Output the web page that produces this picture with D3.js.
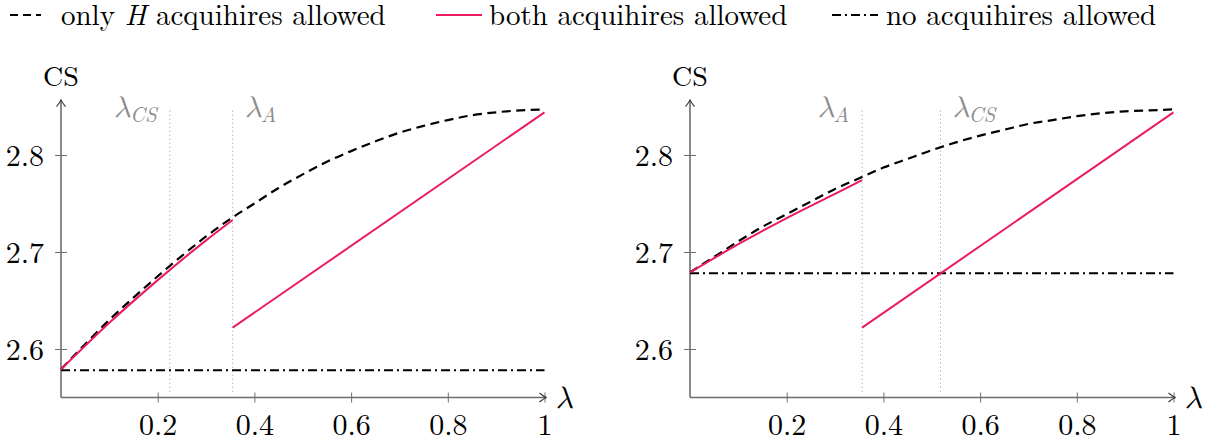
<!DOCTYPE html>
<html>
<head>
<meta charset="utf-8">
<script src="https://cdn.jsdelivr.net/npm/d3@7"></script>
<style>
  body { margin: 0; background: #fff; }
</style>
</head>
<body>
<div id="chart"></div>
<script>
const width = 1218;
const height = 446;
const FONT = '"Latin Modern Roman", "Liberation Serif", serif';
const MATH = '"Latin Modern Math", "Latin Modern Roman", "Liberation Serif", serif';

// shared axis ticks
const xTicks = [0.2, 0.4, 0.6, 0.8, 1];
const yTicks = [2.6, 2.7, 2.8];
const yDomain = [2.55, 2.857];

// "only H acquihires allowed" (dashed), read at these lambdas
const lambdaGrid = [0, 0.05, 0.1, 0.15, 0.2, 0.25, 0.3, 0.35, 0.4, 0.45, 0.5,
  0.55, 0.6, 0.65, 0.7, 0.75, 0.8, 0.85, 0.9, 0.95, 1];
const leftOnlyH = [2.579, 2.605, 2.630, 2.653, 2.675, 2.696, 2.716, 2.734, 2.750, 2.766, 2.780,
  2.793, 2.804, 2.814, 2.823, 2.830, 2.836, 2.841, 2.844, 2.846, 2.847];
const rightOnlyH = [2.679, 2.695, 2.711, 2.726, 2.739, 2.752, 2.765, 2.776, 2.787, 2.796, 2.805,
  2.813, 2.820, 2.826, 2.832, 2.836, 2.840, 2.843, 2.845, 2.846, 2.847];

// "both acquihires allowed" (pink), two pieces per panel
const leftBothLowLambda = [0, 0.1, 0.2, 0.3, 0.355];
const leftBothLowCS = [2.579, 2.627, 2.671, 2.712, 2.733];
const leftBothHighLambda = [0.355, 1];
const leftBothHighCS = [2.622, 2.844];
const rightBothLowLambda = [0, 0.1, 0.2, 0.3, 0.356];
const rightBothLowCS = [2.679, 2.708, 2.735, 2.760, 2.774];
const rightBothHighLambda = [0.356, 1];
const rightBothHighCS = [2.622, 2.844];

// "no acquihires allowed" (dash-dot), flat
const noneLambda = [0, 1];
const leftNoneCS = [2.578, 2.578];
const rightNoneCS = [2.678, 2.678];

// thresholds
const leftMarks = [{ v: 0.225, sub: "CS", side: "left" }, { v: 0.355, sub: "A", side: "right" }];
const rightMarks = [{ v: 0.356, sub: "A", side: "left" }, { v: 0.518, sub: "CS", side: "right" }];

const pink = "#eb1c5e";
const axisGray = "#6e6e6e";

const svg = d3.select("#chart")
  .append("svg")
  .attr("width", width)
  .attr("height", height);

const zip = (xs, ys) => xs.map((d, i) => [d, ys[i]]);

function drawPanel(p) {
  const x = d3.scaleLinear().domain([0, 1]).range([p.left, p.left + 483.5]);
  const y = d3.scaleLinear().domain(yDomain).range([397.5, 99.7]);
  const g = svg.append("g");
  const line = d3.line().x(d => x(d[0])).y(d => y(d[1]));
  const curve = d3.line().x(d => x(d[0])).y(d => y(d[1])).curve(d3.curveMonotoneX);

  // dotted threshold lines + labels
  p.marks.forEach(m => {
    g.append("line")
      .attr("x1", x(m.v)).attr("x2", x(m.v))
      .attr("y1", y(2.556)).attr("y2", y(2.846))
      .attr("stroke", "#9a9a9a").attr("stroke-width", 1)
      .attr("stroke-dasharray", "1,3");
    const t = g.append("text")
      .attr("x", m.side === "left" ? x(m.v) - 13 : x(m.v) + 12)
      .attr("y", 117)
      .attr("text-anchor", m.side === "left" ? "end" : "start")
      .attr("fill", "#8c8c8c")
      .style("font-family", FONT);
    t.append("tspan").style("font-family", MATH).style("font-style", "italic")
      .attr("font-size", 30).text("λ");
    t.append("tspan").style("font-style", "italic").attr("font-size", 21)
      .attr("dy", 5).text(m.sub);
  });

  // axes
  const xAxis = d3.axisBottom(x).tickValues(xTicks).tickSize(5)
    .tickFormat(d => d === 1 ? "1" : d3.format(".1f")(d));
  const gx = g.append("g").attr("transform", `translate(0,${y(2.55)})`).call(xAxis);
  gx.select(".domain").remove();
  gx.selectAll(".tick line").attr("y1", -5).attr("y2", 5).attr("stroke", axisGray);
  gx.selectAll(".tick text").attr("y", 0).attr("dy", 37).attr("font-size", 30)
    .style("font-family", FONT).attr("fill", "#000");

  const yAxis = d3.axisLeft(y).tickValues(yTicks).tickSize(5).tickFormat(d3.format(".1f"));
  const gy = g.append("g").attr("transform", `translate(${x(0)},0)`).call(yAxis);
  gy.select(".domain").remove();
  gy.selectAll(".tick line").attr("x1", -6).attr("x2", 6).attr("stroke", axisGray);
  gy.selectAll(".tick text").attr("x", -17).attr("dy", "0.34em").attr("font-size", 30)
    .style("font-family", FONT).attr("fill", "#000");

  const arrow = "M-7,-4.5 Q-2,-0.5 0,0 Q-2,0.5 -7,4.5";
  g.append("line").attr("x1", x(0)).attr("x2", x(1) + 2)
    .attr("y1", y(2.55)).attr("y2", y(2.55))
    .attr("stroke", axisGray).attr("stroke-width", 1.6);
  g.append("path").attr("d", arrow)
    .attr("transform", `translate(${x(1) + 2},${y(2.55)})`)
    .attr("fill", "none").attr("stroke", "#333").attr("stroke-width", 1.1);
  g.append("line").attr("x1", x(0)).attr("x2", x(0))
    .attr("y1", y(2.55)).attr("y2", y(yDomain[1]))
    .attr("stroke", axisGray).attr("stroke-width", 1.6);
  g.append("path").attr("d", arrow)
    .attr("transform", `translate(${x(0)},${y(yDomain[1])}) rotate(-90)`)
    .attr("fill", "none").attr("stroke", "#333").attr("stroke-width", 1.1);

  g.append("text").attr("x", x(0)).attr("y", 86).attr("text-anchor", "middle")
    .attr("font-size", 28).style("font-family", FONT).text("CS");
  g.append("text").attr("x", x(1) + 11).attr("y", 408)
    .attr("font-size", 31).style("font-family", MATH).style("font-style", "italic").text("λ");

  // series
  g.append("path").datum(zip(noneLambda, p.none)).attr("d", line)
    .attr("fill", "none").attr("stroke", "#000").attr("stroke-width", 2)
    .attr("stroke-dasharray", "9,4,2,4");
  g.append("path").datum(zip(lambdaGrid, p.onlyH)).attr("d", curve)
    .attr("fill", "none").attr("stroke", "#000").attr("stroke-width", 2.2)
    .attr("stroke-dasharray", "9,5.5");
  [zip(p.bothLowLambda, p.bothLowCS), zip(p.bothHighLambda, p.bothHighCS)].forEach(seg => {
    g.append("path").datum(seg).attr("d", curve)
      .attr("fill", "none").attr("stroke", pink).attr("stroke-width", 2);
  });
}

drawPanel({
  left: 61, marks: leftMarks, onlyH: leftOnlyH, none: leftNoneCS,
  bothLowLambda: leftBothLowLambda, bothLowCS: leftBothLowCS,
  bothHighLambda: leftBothHighLambda, bothHighCS: leftBothHighCS
});
drawPanel({
  left: 690, marks: rightMarks, onlyH: rightOnlyH, none: rightNoneCS,
  bothLowLambda: rightBothLowLambda, bothLowCS: rightBothLowCS,
  bothHighLambda: rightBothHighLambda, bothHighCS: rightBothHighCS
});

// legend
const legendItems = [
  { x: 10, w: 31, dash: "8,5", color: "#000", textX: 61 },
  { x: 436, w: 46, dash: null, color: pink, textX: 489 },
  { x: 832, w: 46, dash: "9,4,2,4", color: "#000", textX: 886 }
];
const legend = svg.append("g");
legendItems.forEach((d, i) => {
  legend.append("line")
    .attr("x1", d.x).attr("x2", d.x + d.w).attr("y1", 15).attr("y2", 15)
    .attr("stroke", d.color).attr("stroke-width", 2)
    .attr("stroke-dasharray", d.dash);
  const t = legend.append("text").attr("x", d.textX).attr("y", 25)
    .attr("font-size", 29).style("font-family", FONT);
  if (i === 0) {
    t.append("tspan").text("only ");
    t.append("tspan").style("font-style", "italic").text("H");
    t.append("tspan").text(" acquihires allowed");
  } else if (i === 1) {
    t.text("both acquihires allowed");
  } else {
    t.text("no acquihires allowed");
  }
});
</script>
</body>
</html>
